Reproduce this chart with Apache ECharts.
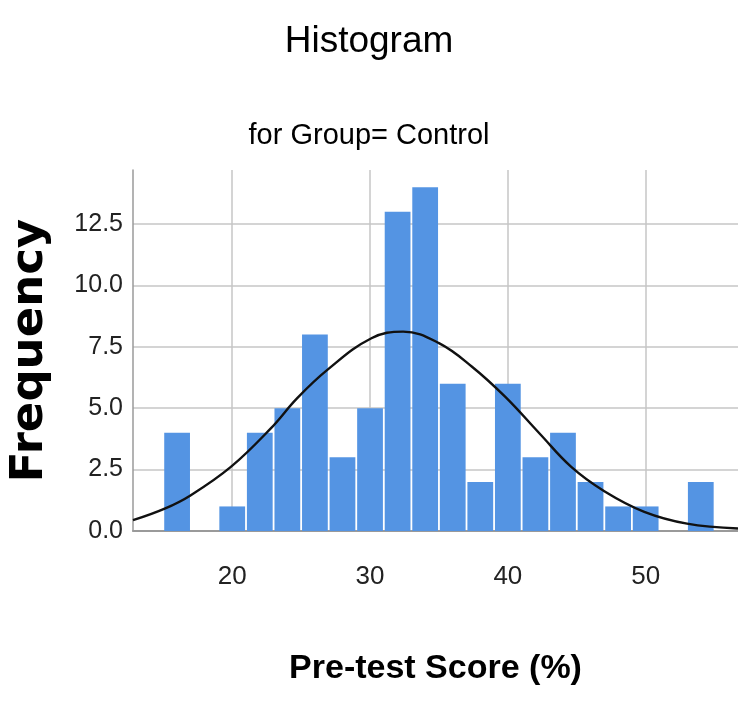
<!DOCTYPE html>
<html>
<head>
<meta charset="utf-8">
<script src="https://cdn.jsdelivr.net/npm/echarts@6/dist/echarts.min.js"></script>
<style>
  html, body { margin: 0; padding: 0; background: #fff; }
  #chart { width: 738px; height: 704px; }
</style>
</head>
<body>
<div id="chart"></div>
<script>
// Histogram bins (lower edge, upper edge) and frequencies
const binLower = [15, 17, 19, 21, 23, 25, 27, 29, 31, 33, 35, 37, 39, 41, 43, 45, 47, 49, 51, 53];
const binUpper = [17, 19, 21, 23, 25, 27, 29, 31, 33, 35, 37, 39, 41, 43, 45, 47, 49, 51, 53, 55];
const frequency = [4, 0, 1, 4, 5, 8, 3, 5, 13, 14, 6, 2, 6, 3, 4, 2, 1, 1, 0, 2];

// Normal curve points
const curveX = [12.8, 15.1, 17.0, 19.9, 22.8, 24.7, 26.9, 30.1, 32.4, 35.0, 37.4, 39.8, 42.3, 44.6, 47.0, 49.9, 53.0, 56.7];
const curveY = [0.44, 0.91, 1.46, 2.61, 4.18, 5.40, 6.56, 7.85, 8.12, 7.65, 6.69, 5.47, 3.97, 2.61, 1.62, 0.78, 0.30, 0.10];

// Axis tick labels
const yTicks = ['0.0', '2.5', '5.0', '7.5', '10.0', '12.5'];
const xTicks = ['20', '30', '40', '50'];

const titleText = 'Histogram';
const subtitleText = 'for Group= Control';
const xName = 'Pre-test Score (%)';
const yName = 'Frequency';

const narrow = "'Liberation Sans Narrow', 'Arial Narrow', 'Liberation Sans', Arial, sans-serif";

const barData = binLower.map((lo, i) => [lo, binUpper[i], frequency[i]]);
const curveData = curveX.map((x, i) => [x, curveY[i]]);

const chart = echarts.init(document.getElementById('chart'), null, { renderer: 'canvas' });

chart.setOption({
  animation: false,
  backgroundColor: '#ffffff',
  title: [
    {
      text: titleText,
      left: 'center',
      top: 18,
      textStyle: { fontFamily: narrow, fontSize: 37, fontWeight: 'normal', color: '#000' }
    },
    {
      text: subtitleText,
      left: 'center',
      top: 116,
      textStyle: { fontFamily: narrow, fontSize: 29, fontWeight: 'normal', color: '#000' }
    }
  ],
  grid: { left: 128, top: 170, right: 0, bottom: 173, containLabel: false },
  xAxis: {
    type: 'value',
    min: 12.8,
    max: 56.7,
    name: xName,
    nameLocation: 'middle',
    nameGap: 121,
    nameTextStyle: { fontFamily: narrow, fontSize: 34, fontWeight: 'bold', color: '#000' },
    axisLine: { show: true, onZero: false, lineStyle: { color: '#9a9a9a', width: 2 } },
    axisTick: { show: false },
    axisLabel: {
      showMinLabel: false,
      showMaxLabel: false,
      margin: 33,
      fontFamily: narrow,
      fontSize: 26,
      color: '#222',
      formatter: function (v) {
        const s = String(Math.round(v));
        return (Math.abs(v % 10) < 1e-6 && xTicks.indexOf(s) >= 0) ? s : '';
      }
    },
    splitLine: {
      show: true,
      showMinLine: false,
      showMaxLine: false,
      lineStyle: { color: '#c6c6c6', width: 1.5 }
    }
  },
  yAxis: {
    type: 'value',
    min: 0,
    max: 14.7,
    interval: 2.5,
    name: yName,
    nameLocation: 'middle',
    nameGap: 80,
    nameRotate: 90,
    nameTextStyle: { fontFamily: "'DejaVu Sans', sans-serif", fontSize: 45, fontWeight: 'bold', color: '#000' },
    axisLine: { show: true, lineStyle: { color: '#9a9a9a', width: 1.5 } },
    axisTick: { show: false },
    axisLabel: {
      showMaxLabel: false,
      margin: 10,
      fontFamily: narrow,
      fontSize: 25,
      color: '#222',
      formatter: function (v) {
        const s = v.toFixed(1);
        return yTicks.indexOf(s) >= 0 ? s : '';
      }
    },
    splitLine: {
      show: true,
      showMaxLine: false,
      lineStyle: { color: '#d4d4d4', width: 2 }
    }
  },
  series: [
    {
      type: 'custom',
      data: barData,
      encode: { x: [0, 1], y: 2 },
      clip: true,
      renderItem: function (params, api) {
        const lo = api.value(0), hi = api.value(1), c = api.value(2);
        if (!c) return null;
        const p0 = api.coord([lo, c]);
        const p1 = api.coord([hi, 0]);
        return {
          type: 'rect',
          shape: { x: p0[0] + 0.9, y: p0[1], width: p1[0] - p0[0] - 1.8, height: p1[1] - p0[1] },
          style: { fill: '#5494e3' }
        };
      },
      z: 2
    },
    {
      type: 'line',
      data: curveData,
      smooth: 0.4,
      showSymbol: false,
      symbol: 'none',
      lineStyle: { color: '#111', width: 2.4 },
      z: 3
    }
  ]
});
</script>
</body>
</html>
